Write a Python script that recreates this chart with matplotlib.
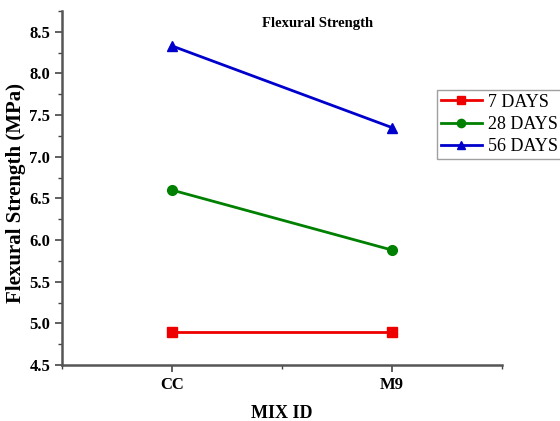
"""Flexural strength of mixes CC and M9 at 7, 28 and 56 days."""

import matplotlib

matplotlib.use("Agg")
import matplotlib.pyplot as plt
from matplotlib.ticker import MultipleLocator

plt.rcParams["font.family"] = ["Liberation Serif", "DejaVu Serif"]

mix_ids = ["CC", "M9"]
series_labels = ["7 DAYS", "28 DAYS", "56 DAYS"]
strength_7 = [4.9, 4.9]
strength_28 = [6.6, 5.88]
strength_56 = [8.33, 7.35]

series_values = [strength_7, strength_28, strength_56]
colors = ["#ee0000", "#008000", "#0000cc"]
markers = ["s", "o", "^"]

figure = plt.figure(figsize=(5.6, 4.21), dpi=100)
axis = figure.add_axes([0.1107, 0.133, 0.7857, 0.841])

positions = list(range(1, len(mix_ids) + 1))
for values, label, color, marker in zip(series_values, series_labels, colors, markers):
    axis.plot(
        positions,
        values,
        color=color,
        marker=marker,
        markersize=7,
        linewidth=2,
        label=label,
    )

axis.set_xlim(0.5, 2.5)
axis.set_ylim(4.5, 8.75)
axis.set_xticks(positions)
axis.set_xticklabels(mix_ids)
axis.xaxis.set_minor_locator(MultipleLocator(0.5))
axis.yaxis.set_major_locator(MultipleLocator(0.5))
axis.yaxis.set_minor_locator(MultipleLocator(0.25))
axis.tick_params(which="major", direction="out", length=5, width=1.2, colors="#444444", labelcolor="black", labelsize=12)
axis.tick_params(which="minor", direction="out", length=3, width=1, colors="#444444")
for label in axis.get_xticklabels() + axis.get_yticklabels():
    label.set_fontweight("bold")

for side in ("top", "right"):
    axis.spines[side].set_visible(False)
for side in ("left", "bottom"):
    axis.spines[side].set_color("#555555")
    axis.spines[side].set_linewidth(1.8)

axis.set_xlabel("MIX ID", fontsize=13, fontweight="bold", labelpad=9)
axis.set_ylabel("Flexural Strength (MPa)", fontsize=15, fontweight="bold")
axis.yaxis.set_label_coords(-0.082, 0.485)
axis.text(0.58, 0.965, "Flexural Strength", transform=axis.transAxes, ha="center",
          va="center", fontsize=10.5, fontweight="bold")

figure.legend(
    loc="upper left",
    bbox_to_anchor=(437 / 560, 1 - 90 / 421),
    fontsize=13,
    frameon=True,
    fancybox=False,
    edgecolor="#888888",
    borderpad=0.2,
    labelspacing=0.3,
    handlelength=2.3,
    handletextpad=0.3,
    borderaxespad=0,
    markerscale=0.85,
)

figure.savefig("out.png", dpi=100)
plt.close(figure)
